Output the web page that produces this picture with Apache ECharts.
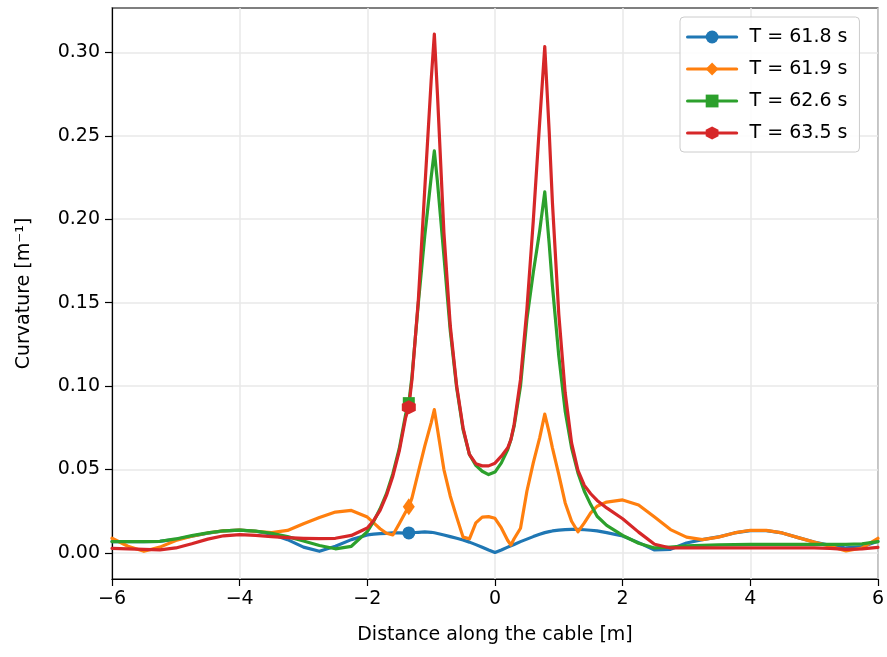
<!DOCTYPE html>
<html><head><meta charset="utf-8">
<script src="https://cdn.jsdelivr.net/npm/echarts@6/dist/echarts.min.js"></script>
<style>html,body{margin:0;padding:0;background:#fff}#c{width:887px;height:657px}</style>
</head><body><div id="c"></div>
<script>
// Distance along the cable [m]
const distance = [-6,-5.75,-5.5,-5.25,-5,-4.75,-4.5,-4.25,-4,-3.75,-3.5,-3.25,-3,-2.75,-2.5,-2.25,-2,
  -1.9,-1.8,-1.7,-1.6,-1.5,-1.4,-1.35,-1.3,-1.2,-1.1,-1.0,-0.95,
  -0.9,-0.8,-0.7,-0.6,-0.5,-0.4,-0.3,-0.2,-0.1,0,0.1,0.2,0.25,0.3,0.4,0.5,0.6,0.7,0.78,0.85,0.9,
  1.0,1.1,1.2,1.3,1.4,1.5,1.6,1.75,2,2.25,2.5,2.75,3,3.25,3.5,3.75,4,4.25,4.5,4.75,5,5.25,5.5,5.75,6];

// Curvature [1/m]
const curvT618 = [0.0068,0.0068,0.0068,0.0070,0.0082,0.0100,0.0118,0.0132,0.0137,0.0130,0.0113,0.0080,0.0035,0.0010,0.0040,0.0080,0.0108,
  0.0113,0.0116,0.0118,0.0120,0.0120,0.0119,0.0120,0.0121,0.0124,0.0126,0.0124,0.0121,
  0.0117,0.0108,0.0098,0.0088,0.0078,0.0065,0.0050,0.0034,0.0018,0.0003,0.0018,0.0035,0.0043,0.0051,0.0068,0.0083,0.0098,0.0112,0.0122,0.0128,0.0132,
  0.0137,0.0140,0.0141,0.0141,0.0139,0.0136,0.0132,0.0122,0.0102,0.0062,0.0018,0.0022,0.0060,0.0080,0.0096,0.0120,0.0134,0.0134,0.0120,0.0092,0.0066,0.0046,0.0030,0.0038,0.0070];

const curvT619 = [0.0088,0.0040,0.0010,0.0035,0.0075,0.0100,0.0120,0.0132,0.0137,0.0130,0.0122,0.0135,0.0175,0.0212,0.0245,0.0255,0.0215,
  0.0180,0.0145,0.0118,0.0108,0.0175,0.0245,0.0277,0.0330,0.0486,0.0640,0.0780,0.0859,
  0.0740,0.0500,0.0340,0.0215,0.0095,0.0085,0.0180,0.0215,0.0218,0.0208,0.0150,0.0075,0.0048,0.0085,0.0148,0.0370,0.0540,0.0690,0.0832,0.0720,0.0630,
  0.0470,0.0300,0.0190,0.0127,0.0180,0.0240,0.0280,0.0305,0.0318,0.0288,0.0215,0.0140,0.0095,0.0080,0.0095,0.0120,0.0136,0.0135,0.0120,0.0092,0.0065,0.0040,0.0012,0.0030,0.0088];

const curvT626 = [0.0068,0.0068,0.0068,0.0070,0.0084,0.0104,0.0120,0.0133,0.0137,0.0131,0.0118,0.0098,0.0072,0.0045,0.0025,0.0040,0.0128,
  0.0190,0.0265,0.0355,0.0475,0.0625,0.0830,0.0898,0.1060,0.1500,0.1900,0.2250,0.2410,
  0.2220,0.1780,0.1330,0.0990,0.0740,0.0590,0.0525,0.0490,0.0470,0.0485,0.0540,0.0620,0.0680,0.0760,0.1000,0.1400,0.1680,0.1930,0.2164,0.1850,0.1600,
  0.1180,0.0850,0.0630,0.0480,0.0370,0.0290,0.0220,0.0165,0.0105,0.0058,0.0030,0.0035,0.0042,0.0046,0.0048,0.0050,0.0052,0.0052,0.0052,0.0052,0.0052,0.0052,0.0052,0.0055,0.0068];

const curvT635 = [0.0028,0.0025,0.0021,0.0019,0.0030,0.0055,0.0083,0.0103,0.0110,0.0106,0.0098,0.0092,0.0088,0.0086,0.0088,0.0105,0.0150,
  0.0195,0.0255,0.0345,0.0460,0.0610,0.0810,0.0874,0.1040,0.1520,0.2180,0.2830,0.3110,
  0.2740,0.1920,0.1360,0.1000,0.0750,0.0590,0.0535,0.0522,0.0522,0.0538,0.0580,0.0630,0.0680,0.0770,0.1040,0.1460,0.1990,0.2580,0.3035,0.2520,0.2100,
  0.1430,0.0960,0.0660,0.0495,0.0405,0.0355,0.0315,0.0270,0.0205,0.0125,0.0052,0.0030,0.0030,0.0030,0.0030,0.0030,0.0030,0.0030,0.0030,0.0030,0.0030,0.0028,0.0022,0.0025,0.0034];

const seriesNames = ['T = 61.8 s', 'T = 61.9 s', 'T = 62.6 s', 'T = 63.5 s'];
const seriesValues = [curvT618, curvT619, curvT626, curvT635];
const markerDistance = -1.35;
const xTicks = [-6, -4, -2, 0, 2, 4, 6];
const yTicks = [0.00, 0.05, 0.10, 0.15, 0.20, 0.25, 0.30];

const colors = ['#1f77b4', '#ff7f0e', '#2ca02c', '#d62728'];
const symbols = ['circle', 'path://M0,-1 L0.62,0 L0,1 L-0.62,0 Z', 'rect',
  'path://M0,-1 L0.866,-0.5 L0.866,0.5 L0,1 L-0.866,0.5 L-0.866,-0.5 Z'];
const symSizes = [13, [12, 17], 12, 14];
const FONT = 'DejaVu Sans';
const markerIdx = distance.indexOf(markerDistance);

const series = seriesValues.map((vals, s) => ({
  name: seriesNames[s],
  type: 'line',
  data: distance.map((x, i) => [x, vals[i]]),
  symbol: symbols[s],
  symbolSize: function (v, p) { return p.dataIndex === markerIdx ? symSizes[s] : 0; },
  showSymbol: true,
  showAllSymbol: true,
  symbolKeepAspect: false,
  smooth: false,
  clip: true,
  color: colors[s],
  itemStyle: { color: colors[s], borderWidth: 0 },
  lineStyle: { color: colors[s], width: 3.2, join: 'round', cap: 'round' },
  emphasis: { disabled: true },
  animation: false
}));

const chart = echarts.init(document.getElementById('c'), null, { renderer: 'canvas' });
chart.setOption({
  backgroundColor: '#ffffff',
  animation: false,
  grid: { left: 112, right: 7, top: 8, bottom: 78, show: true, borderColor: '#000', borderWidth: 1.2, backgroundColor: 'transparent' },
  legend: {
    left: 680, top: 17, orient: 'vertical',
    padding: [10, 12, 9, 6],
    itemWidth: 49, itemHeight: 16, itemGap: 12,
    backgroundColor: 'rgba(255,255,255,0.85)', borderColor: '#cccccc', borderWidth: 1, borderRadius: 4,
    lineStyle: { width: 3.2 },
    textStyle: { fontFamily: FONT, fontSize: 19, color: '#000', lineHeight: 20, padding: [0, 0, 0, 8] },
    data: seriesNames
  },
  xAxis: {
    type: 'value', min: -6, max: 6, interval: 2,
    name: 'Distance along the cable [m]', nameLocation: 'middle', nameGap: 47,
    nameTextStyle: { fontFamily: FONT, fontSize: 19, color: '#000' },
    axisLine: { show: true, onZero: false, lineStyle: { color: '#000', width: 1.2 } },
    axisTick: { show: true, inside: false, length: 7, lineStyle: { color: '#000', width: 1.2 } },
    axisLabel: { fontFamily: FONT, fontSize: 19, color: '#000', margin: 11,
      formatter: v => String(v).replace('-', '\u2212') },
    splitLine: { show: true, lineStyle: { color: '#e8e8e8', width: 1.5 } }
  },
  yAxis: {
    type: 'value', min: -0.0156, max: 0.3266,
    name: 'Curvature [m\u207B\u00B9]', nameLocation: 'middle', nameGap: 78, nameRotate: 90,
    nameTextStyle: { fontFamily: FONT, fontSize: 19, color: '#000' },
    axisLine: { show: true, onZero: false, lineStyle: { color: '#000', width: 1.2 } },
    axisTick: { show: true, inside: false, length: 7, customValues: yTicks, lineStyle: { color: '#000', width: 1.2 } },
    axisLabel: { fontFamily: FONT, fontSize: 19, color: '#000', margin: 12, customValues: yTicks,
      formatter: v => v.toFixed(2) },
    splitLine: { show: true, lineStyle: { color: '#e8e8e8', width: 1.5 } }
  },
  series: series
});
</script>
</body></html>
